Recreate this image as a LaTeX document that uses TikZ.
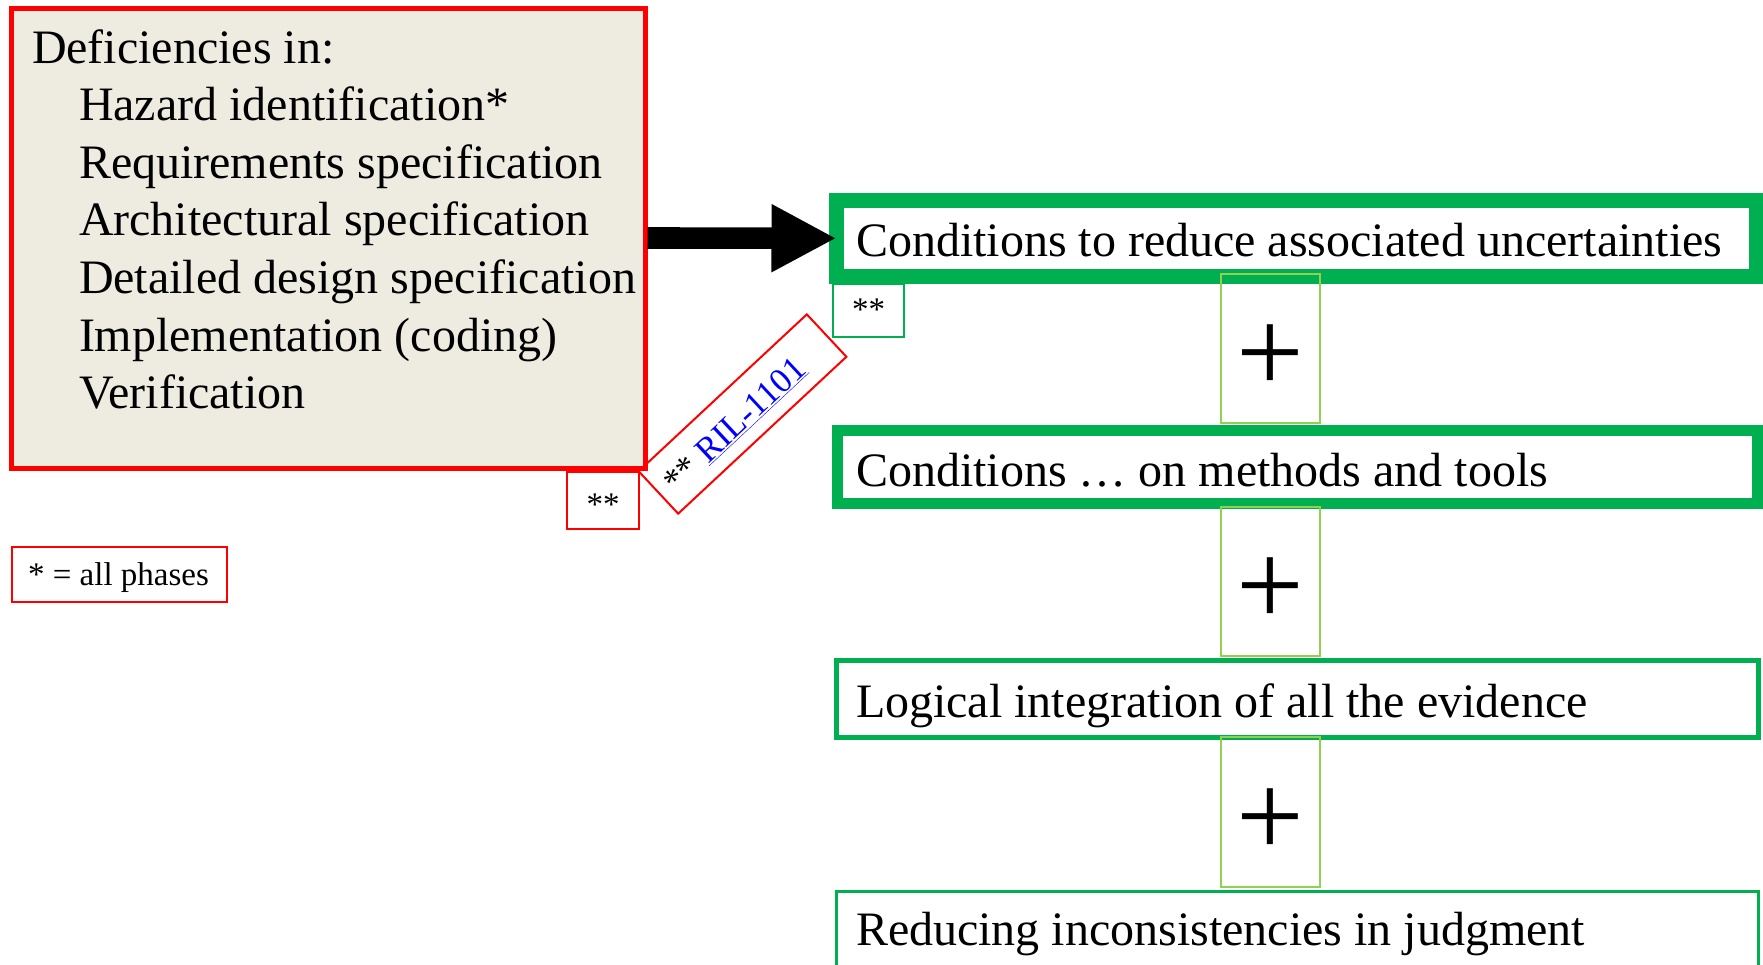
\documentclass[tikz,border=0pt]{standalone}
\usepackage{fontspec}
\setmainfont{Liberation Serif}
\usetikzlibrary{arrows.meta}
\definecolor{defred}{HTML}{FF0000}
\definecolor{condgreen}{HTML}{00B050}
\definecolor{plusgreen}{HTML}{92D050}
\definecolor{panelbeige}{HTML}{EEECE1}
\definecolor{linkblue}{HTML}{0000FF}

\tikzset{
  frame/.style={rectangle, inner sep=0pt, outer sep=0pt},
  bigtext/.style={anchor=base west, inner sep=0pt, outer sep=0pt, font=\fontsize{48}{57.6}\selectfont},
  smalltext/.style={anchor=base, inner sep=0pt, outer sep=0pt, font=\fontsize{33}{40}\selectfont},
  condbox/.style={frame, draw=condgreen},
  notebox/.style={frame, draw=defred, line width=2pt},
  plusbox/.style={frame, draw=plusgreen, line width=1.5pt, minimum width=99pt},
  plussign/.style={inner sep=0pt, outer sep=0pt, font=\fontsize{120}{120}\selectfont},
  bigarrow/.style={line width=21.6pt, -{Triangle[length=65pt,width=63.3pt]}, shorten <=2.5pt},
}

\begin{document}
\begin{tikzpicture}[x=1pt,y=-1pt]
\useasboundingbox[fill=white] (0,0) rectangle (1763,964);

% panel listing the deficiencies
\node[frame, draw=defred, fill=panelbeige, line width=5pt,
      minimum width=634pt, minimum height=460pt] (defbox) at (328,238) {};
\node[bigtext] (def0) at (32,63)    {Deficiencies in:};
\node[bigtext] (def1) at (79,120.6) {Hazard identification*};
\node[bigtext] (def2) at (79,178.2) {Requirements specification};
\node[bigtext] (def3) at (79,235.8) {Architectural specification};
\node[bigtext] (def4) at (79,293.4) {Detailed design specification};
\node[bigtext] (def5) at (79,351)   {Implementation (coding)};
\node[bigtext] (def6) at (79,408.6) {Verification};

% stack of conditions
\node[condbox, line width=15pt, minimum width=919.5pt, minimum height=75.5pt] (cond1) at (1296.25,238.25) {};
\node[bigtext] (cond1txt) at (856,256) {Conditions to reduce associated uncertainties};

\node[condbox, line width=11pt, minimum width=920pt, minimum height=73pt] (cond2) at (1297.5,467) {};
\node[bigtext] (cond2txt) at (856,486) {Conditions … on methods and tools};

\node[condbox, line width=5pt, minimum width=922pt, minimum height=77pt] (cond3) at (1297.5,699) {};
\node[bigtext] (cond3txt) at (856,717) {Logical integration of all the evidence};

\node[condbox, line width=3pt, minimum width=922pt, minimum height=110pt] (cond4) at (1297.5,946.5) {};
\node[bigtext] (cond4txt) at (856,945) {Reducing inconsistencies in judgment};

% plus signs between the conditions
\node[plusbox, minimum height=149pt] (plus1box) at (1270.5,348.5) {};
\node[plussign] (plus1) at (1270,359) {+};
\node[plusbox, minimum height=149pt] (plus2box) at (1270.5,581.5) {};
\node[plussign] (plus2) at (1270,591.4) {+};
\node[plusbox, minimum height=150pt] (plus3box) at (1270.5,812) {};
\node[plussign] (plus3) at (1270,822.4) {+};

% arrow from the deficiencies to the first condition
\draw[bigarrow] (defbox.east) -- (cond1.west);

% reference marks
\node[frame, draw=condgreen, line width=1.5pt, minimum width=71pt, minimum height=53pt] (markG) at (868.5,310.5) {};
\node[smalltext] (markGtxt) at (868.5,320) {**};

\node[notebox, minimum width=230pt, minimum height=58pt, rotate=43] (ril) at (742.5,414) {};
\node[anchor=base, inner sep=0pt, outer sep=0pt, rotate=43,
      font=\fontsize{35}{42}\selectfont] (riltxt) at (742,432.8)
      {** \textcolor{linkblue}{\underline{RIL-1101}}};

\node[notebox, minimum width=72pt, minimum height=57pt] (markR) at (603,500.5) {};
\node[smalltext] (markRtxt) at (603,515) {**};

\node[notebox, minimum width=215pt, minimum height=55pt] (legend) at (119.5,574.5) {};
\node[smalltext] (legendtxt) at (118.5,585) {* = all phases};
\end{tikzpicture}
\end{document}
